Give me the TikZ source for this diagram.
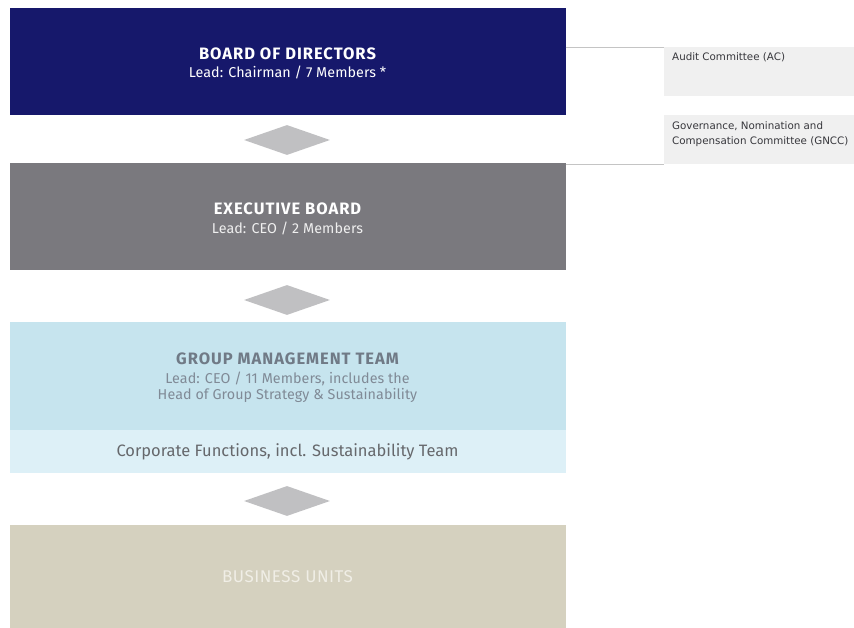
\documentclass[tikz,border=0pt]{standalone}
\usepackage{fontspec}
\setmainfont{Fira Sans}
\newfontfamily\cmtfont{DejaVu Sans}
\usetikzlibrary{shapes.geometric}
\definecolor{navy}{RGB}{22,24,107}
\definecolor{execgray}{RGB}{122,121,126}
\definecolor{diagray}{RGB}{192,192,194}
\definecolor{gmtblue}{RGB}{198,228,238}
\definecolor{corpblue}{RGB}{221,240,247}
\definecolor{gmttext}{RGB}{112,122,134}
\definecolor{gmtsub}{RGB}{128,138,150}
\definecolor{corptext}{RGB}{102,104,108}
\definecolor{beige}{RGB}{213,209,191}
\definecolor{butext}{RGB}{240,238,230}
\definecolor{cmtbox}{RGB}{240,240,240}
\definecolor{cmttext}{RGB}{55,55,60}
\definecolor{linegray}{RGB}{196,196,196}
\begin{document}
\begin{tikzpicture}[x=1pt,y=-1pt,
  tier/.style={rectangle, inner sep=0pt, minimum width=556pt},
  ttl/.style={inner sep=0pt, font=\fontsize{16.5}{19}\selectfont\bfseries\addfontfeatures{LetterSpace=6}},
  sub/.style={inner sep=0pt, font=\fontsize{14.3}{17}\selectfont\addfontfeatures{LetterSpace=0.5}},
  link/.style={diamond, fill=diagray, draw=none, inner sep=0pt, minimum width=86pt, minimum height=30pt, aspect=2.87},
  cmt/.style={rectangle, fill=cmtbox, inner sep=0pt, minimum width=191pt, minimum height=49pt},
  cmtlabel/.style={anchor=north west, inner sep=0pt, align=left, text=cmttext, font=\cmtfont\fontsize{10.3}{15}\selectfont},
  conn/.style={draw=linegray, line width=0.8pt}]
\useasboundingbox (0,0) rectangle (854,628);
% tiers
\node[tier, fill=navy, minimum height=107pt] (board) at (287.5,61.5) {};
\node[ttl, text=white] (boardt) at (287.5,53.5) {BOARD OF DIRECTORS};
\node[sub, text=white] (boards) at (287.5,72.5) {Lead: Chairman / 7 Members *};
\node[tier, fill=execgray, minimum height=107pt] (exec) at (287.5,216.5) {};
\node[ttl, text=white] (exect) at (287.5,208.5) {EXECUTIVE BOARD};
\node[sub, text=white!88!execgray] (execs) at (287.5,228) {Lead: CEO / 2 Members};
\node[tier, fill=gmtblue, minimum height=108pt] (gmt) at (287.5,376) {};
\node[ttl, text=gmttext] (gmtt) at (287.5,358.5) {GROUP MANAGEMENT TEAM};
\node[sub, text=gmtsub] (gmts1) at (287.5,378.5) {Lead: CEO / 11 Members, includes the};
\node[sub, text=gmtsub] (gmts2) at (287.5,395.5) {Head of Group Strategy \& Sustainability};
\node[tier, fill=corpblue, minimum height=43pt, font=\fontsize{16.5}{19}\selectfont, text=corptext] (corp) at (287.5,451.5)
  {Corporate Functions, incl. Sustainability Team};
\node[tier, fill=beige, minimum height=103pt, font=\fontsize{17}{20}\selectfont\addfontfeatures{LetterSpace=3}, text=butext] (bu) at (287.5,576.5)
  {BUSINESS UNITS};
% diamonds
\node[link] (d1) at (287,140) {};
\node[link] (d2) at (287,300) {};
\node[link] (d3) at (287,501) {};
% committees
\node[cmt, anchor=north west] (ac) at (664,47) {};
\node[cmtlabel] (actext) at (672,52) {Audit Committee (AC)};
\node[cmt, anchor=north west] (gncc) at (664,115) {};
\node[cmtlabel] (gncctext) at (672,121) {Governance, Nomination and\\Compensation Committee (GNCC)};
% connectors
\draw[conn] (board.east |- ac.north west) -- (ac.north west);
\draw[conn] (board.east |- gncc.south west) -- (gncc.south west);
\end{tikzpicture}
\end{document}
